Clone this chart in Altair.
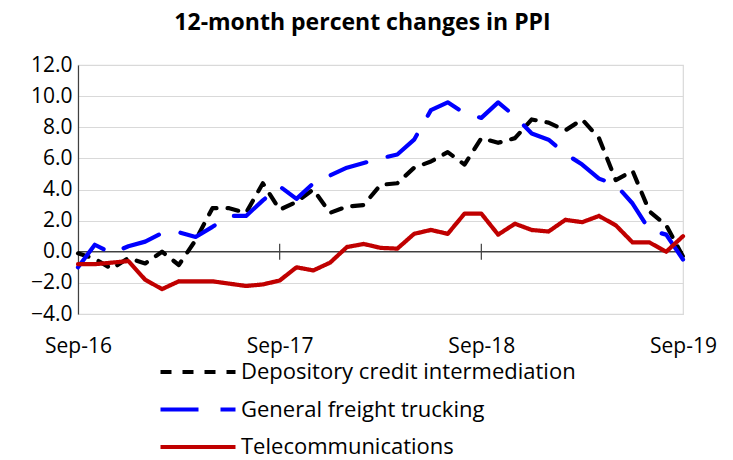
import altair as alt
import pandas as pd

series_names = ["Depository credit intermediation", "General freight trucking", "Telecommunications"]
tick_labels = ["Sep-16", "Sep-17", "Sep-18", "Sep-19"]
tick_index = [0, 12, 24, 36]

depository = [-0.1, -0.45, -1.1, -0.4, -0.75, 0.0, -0.85, 0.75, 2.8, 2.8, 2.5, 4.4,
              2.7, 3.2, 4.0, 2.5, 2.9, 3.0, 4.3, 4.4, 5.4, 5.8, 6.4, 5.6,
              7.3, 7.0, 7.3, 8.5, 8.3, 7.8, 8.5, 7.3, 4.6, 5.2, 2.6, 1.7, -0.3]
trucking = [-1.0, 0.45, -0.1, 0.35, 0.65, 1.2, 1.25, 0.95, 1.6, 2.3, 2.3, 3.3,
            4.2, 3.4, 4.4, 4.9, 5.4, 5.7, 6.0, 6.25, 7.2, 9.1, 9.6, 8.9,
            8.6, 9.6, 8.7, 7.6, 7.2, 6.3, 5.6, 4.7, 4.3, 3.1, 1.4, 1.1, -0.5]
telecom = [-0.8, -0.8, -0.7, -0.6, -1.8, -2.4, -1.9, -1.9, -1.9, -2.05, -2.2, -2.1,
           -1.85, -1.0, -1.2, -0.7, 0.3, 0.5, 0.25, 0.2, 1.15, 1.4, 1.15, 2.45,
           2.45, 1.1, 1.8, 1.4, 1.3, 2.05, 1.9, 2.3, 1.7, 0.6, 0.6, 0.0, 1.0]

rows = []
for name, vals in zip(series_names, [depository, trucking, telecom]):
    for i, v in enumerate(vals):
        rows.append({"m": i, "series": name, "value": v})
df = pd.DataFrame(rows)

FONT = "Open Sans"
label_expr = "[" + ",".join("'" + t + "'" for t in tick_labels) + "][round(datum.value/12)]"

x_scale = alt.Scale(domain=[0, 36], nice=False, zero=False)
y_scale = alt.Scale(domain=[-4, 12], nice=False)

x_axis = alt.Axis(values=tick_index, labelExpr=label_expr, title=None,
                  domain=False, ticks=False, grid=False,
                  labelFontSize=21, labelFont=FONT, labelColor="black",
                  labelPadding=21, labelFlush=False, labelOverlap=False)
y_axis = alt.Axis(values=list(range(-4, 13, 2)), format=".1f", title=None,
                  labelFontSize=21, labelFont=FONT, labelColor="black",
                  labelOverlap=False, labelFlush=False,
                  ticks=False, domainColor="#404040", domainWidth=1.2,
                  gridColor="#d9d9d9", gridWidth=1.2, labelPadding=6,
                  minExtent=65, maxExtent=65)

zero_df = pd.DataFrame({"y": [0]})
zero = alt.Chart(zero_df).mark_rule(color="black", strokeWidth=1.2).encode(
    y=alt.Y("y:Q", scale=y_scale, axis=y_axis))

ticks_df = pd.DataFrame({"m": tick_index[1:3], "lo": [-0.52, -0.52], "hi": [0.52, 0.52]})
tick_marks = alt.Chart(ticks_df).mark_rule(color="#404040", strokeWidth=1.2).encode(
    x=alt.X("m:Q", scale=x_scale, axis=x_axis),
    y=alt.Y("lo:Q", scale=y_scale, axis=y_axis), y2="hi:Q")

lines = alt.Chart(df).mark_line(strokeCap="round", strokeJoin="round").encode(
    x=alt.X("m:Q", scale=x_scale, axis=x_axis),
    y=alt.Y("value:Q", scale=y_scale, axis=y_axis),
    color=alt.Color("series:N",
                    scale=alt.Scale(domain=series_names, range=["#000000", "#0000ff", "#c00000"]),
                    legend=alt.Legend(title=None, orient="none", legendX=80, legendY=293,
                                      direction="vertical", symbolType="stroke",
                                      symbolSize=5625, symbolStrokeWidth=4,
                                      labelFontSize=22, labelFont=FONT, labelColor="black",
                                      labelLimit=0, labelOffset=3, rowPadding=9.5,
                                      clipHeight=28)),
    strokeDash=alt.StrokeDash("series:N",
                              scale=alt.Scale(domain=series_names,
                                              range=[[11, 11], [38, 22], [1, 0]]),
                              legend=None),
    strokeWidth=alt.StrokeWidth("series:N",
                                scale=alt.Scale(domain=series_names, range=[4.2, 4.2, 3.5]),
                                legend=None),
)

chart = alt.layer(zero, tick_marks, lines).properties(
    width=605, height=249,
    padding={"left": 5, "top": 4, "right": 5, "bottom": 5},
    title=alt.TitleParams("12-month percent changes in PPI", font=FONT, fontSize=23,
                          fontWeight="bold", color="black", offset=19, anchor="middle",
                          frame="group", dx=-18),
).configure_view(stroke="#d9d9d9", strokeWidth=1.2)

chart.save("out.html", embed_options={"renderer": "svg", "actions": False})
